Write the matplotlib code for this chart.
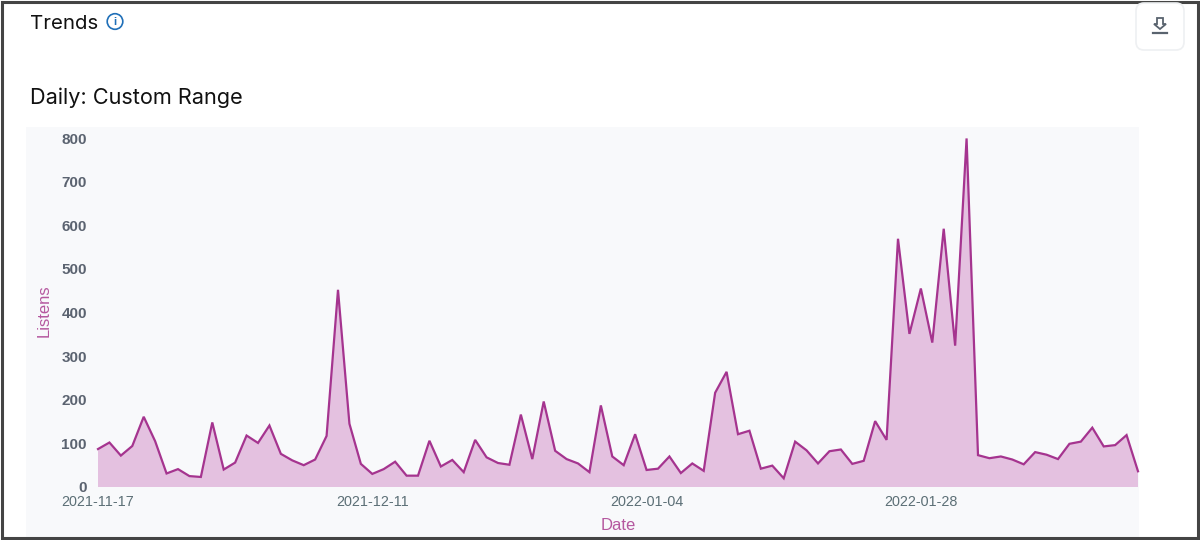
# encoding=utf-8
import matplotlib
matplotlib.use('Agg')
import matplotlib.pyplot as plt
import pandas as pd
from matplotlib.patches import Circle, FancyBboxPatch, Polygon, Rectangle

plt.rcParams['font.family'] = ['Liberation Sans', 'DejaVu Sans']

start_date = '2021-11-17'
listens = [87, 102, 72, 94, 161, 105, 31, 41, 25, 23,
           148, 40, 56, 118, 101, 141, 76, 61, 50, 63,
           117, 452, 145, 53, 30, 41, 58, 26, 26, 106,
           47, 62, 34, 108, 68, 55, 51, 166, 64, 196,
           83, 64, 54, 34, 187, 70, 50, 121, 39, 42,
           70, 32, 54, 37, 216, 264, 121, 129, 42, 49,
           20, 104, 84, 54, 82, 86, 53, 60, 151, 108,
           569, 351, 455, 331, 592, 324, 799, 73, 66, 70,
           63, 52, 80, 74, 64, 99, 104, 136, 93, 96,
           119, 36]
date_ticks = ['2021-11-17', '2021-12-11', '2022-01-04', '2022-01-28']
y_ticks = [0, 100, 200, 300, 400, 500, 600, 700, 800]

dates = pd.date_range(start_date, periods=len(listens))

W, H = 1200, 540
fig = plt.figure(figsize=(W / 100, H / 100), dpi=100, facecolor='white')

# page furniture, in pixels
bg = fig.add_axes([0, 0, 1, 1], zorder=0)
bg.set_xlim(0, W)
bg.set_ylim(H, 0)
bg.axis('off')
bg.add_patch(Rectangle((26, 127), 1113, 410, facecolor='#f8f9fb', edgecolor='none'))
bg.add_patch(Rectangle((1.5, 1.5), 1196.5, 536, facecolor='none', edgecolor='#444444', lw=2.2))

bg.text(30, 24, 'Trends', family=['Inter', 'DejaVu Sans'], fontsize=14.7, color='#111111', va='center')
bg.text(30, 98, 'Daily: Custom Range', family=['Inter', 'DejaVu Sans'], fontsize=15.6, color='#111111', va='center')

# info icon
bg.add_patch(Circle((115, 21.5), 7.8, facecolor='none', edgecolor='#1f6fb8', lw=1.2))
bg.text(115, 22, 'i', fontsize=8, color='#1f6fb8', ha='center', va='center', fontweight='bold')

# download button
bg.add_patch(FancyBboxPatch((1136, 3), 48, 47, boxstyle='round,pad=0,rounding_size=8',
                            facecolor='white', edgecolor='#eef0f2', lw=1.2))
bg.add_patch(Polygon([(1157, 18), (1163, 18), (1163, 24), (1166, 24), (1160, 29), (1154, 24), (1157, 24)],
                     facecolor='none', edgecolor='#59636e', lw=1.3))
bg.plot([1153, 1167], [33, 33], color='#59636e', lw=1.6)

# chart, plot area runs from x=98 to x=1138 and y=138 to y=487
ax = fig.add_axes([98 / W, 1 - 487 / H, 1040 / W, 349 / H], zorder=1)
ax.patch.set_alpha(0)
ax.fill_between(dates, listens, 0, facecolor='#e4c1e0', edgecolor='none')
ax.plot(dates, listens, color='#a5348f', lw=1.6, solid_joinstyle='miter', clip_on=False)

ax.set_xlim(dates[0], dates[-1])
ax.set_ylim(0, 800)
ax.set_yticks(y_ticks)
ax.set_xticks(pd.to_datetime(date_ticks))
ax.set_xticklabels(date_ticks, fontsize=10.4, color='#5c6f76')
ax.tick_params(axis='x', length=0, pad=6)
ax.tick_params(axis='y', length=0, pad=8, labelsize=11, labelcolor='#5b6370')
for label in ax.get_yticklabels():
    label.set_fontweight('bold')
for side in ax.spines:
    ax.spines[side].set_visible(False)

bg.text(618, 525.5, 'Date', fontsize=12, color='#b5589f', ha='center', va='center')
bg.text(44.5, 311, 'Listens', fontsize=12, color='#b5589f', ha='center', va='center', rotation=90)

fig.savefig('out.png', dpi=100)
